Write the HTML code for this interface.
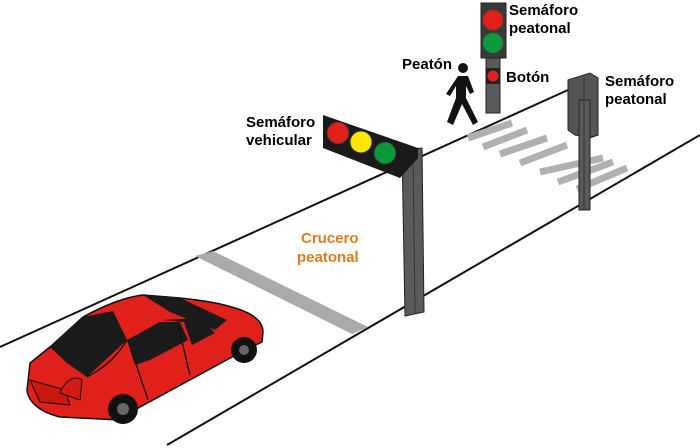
<!DOCTYPE html>
<html><head><meta charset="utf-8"><style>
html,body{margin:0;padding:0;background:#fff;}
svg{display:block;}
text{font-family:"Liberation Sans",Arial,sans-serif;font-weight:bold;font-size:15px;}
</style></head><body>
<svg width="700" height="448" viewBox="0 0 700 448" xmlns="http://www.w3.org/2000/svg">
<line x1="0" y1="347" x2="568" y2="90" stroke="#111" stroke-width="2"/>
<line x1="167" y1="445" x2="700" y2="135" stroke="#111" stroke-width="2"/>
<polygon points="195,256 213,251 368,327 352,334" fill="#aaa"/>
<g stroke="#b0b0b0" stroke-width="7">
<line x1="468" y1="138" x2="512" y2="123"/>
<line x1="483" y1="147" x2="527" y2="130"/>
<line x1="500" y1="154" x2="547" y2="138"/>
<line x1="520" y1="163" x2="567" y2="145"/>
<line x1="540" y1="172" x2="603" y2="158"/>
<line x1="558" y1="182" x2="613" y2="162"/>
<line x1="577" y1="189" x2="627" y2="168"/>
</g>
<polygon points="402,150 422,148 424,312 405,316" fill="#5a5a5a" stroke="#222" stroke-width="1"/>
<line x1="413" y1="150" x2="415" y2="314" stroke="#333"/>
<polygon points="323,115 418,148 418,158 400,178 323,148" fill="#1a1a1a"/>
<circle cx="338" cy="133" r="11" fill="#e0201a" stroke="#333"/>
<circle cx="361" cy="142" r="11" fill="#ffe600" stroke="#333"/>
<circle cx="385" cy="153" r="11" fill="#0a9a3c" stroke="#333"/>
<rect x="486" y="55" width="14" height="58" fill="#5a5a5a" stroke="#222"/>
<rect x="481" y="3" width="25" height="55" fill="#3a3a3a" stroke="#222"/>
<circle cx="493" cy="20" r="10" fill="#e0201a"/>
<circle cx="493" cy="43" r="10" fill="#0a9a3c"/>
<rect x="486" y="68" width="14" height="16" fill="#222"/>
<circle cx="493" cy="76" r="5.5" fill="#e0201a"/>
<polygon points="568,80 590,73 598,78 598,135 590,138 575,135 568,130" fill="#555" stroke="#222"/>
<rect x="579" y="100" width="11" height="110" fill="#5a5a5a" stroke="#222"/>
<line x1="584" y1="78" x2="584" y2="210" stroke="#333"/>
<circle cx="463" cy="68" r="5" fill="#111"/>
<path d="M458,76 L468,76 L474,92 L470,94 L466,86 L466,98 L478,122 L473,125 L462,104 L453,125 L447,122 L456,98 L456,86 L450,96 L446,94 Z" fill="#111"/>
<path d="M27,390 L30,363 L50,347 L83,317 C105,305 125,297 143,295 L180,298 C200,300 220,303 235,308 C255,314 263,322 263,332 L262,342 L245,350 L140,407 L120,420 L60,417 C40,412 28,402 27,390 Z" fill="#e0201a" stroke="#111" stroke-width="1.5"/>
<polygon points="50,347 83,317 113,311 127,340 87,377 67,363" fill="#1a1a1a"/>
<polygon points="143,295 180,298 227,320 215,330 170,312" fill="#1a1a1a"/>
<polygon points="127,340 160,322 180,322 188,340 150,360 135,365" fill="#1a1a1a"/>
<polygon points="162,320 200,318 215,333 192,345 184,322" fill="#1a1a1a"/>
<path d="M128,340 L148,400 M178,325 L190,375 M87,377 C100,370 115,360 127,340" stroke="#111" fill="none" stroke-width="1.3"/>
<path d="M30,380 L65,390 L70,405 L40,402 Z" fill="#c81810" stroke="#111"/>
<path d="M60,393 C65,380 75,375 82,380 L80,400 Z" fill="#d01c14" stroke="#111"/>
<circle cx="123" cy="409" r="15" fill="#111"/><circle cx="123" cy="409" r="6" fill="#666"/>
<circle cx="244" cy="350" r="13" fill="#111"/><circle cx="244" cy="350" r="5" fill="#666"/>
<text x="509" y="15">Semáforo</text>
<text x="509" y="33">peatonal</text>
<text x="402" y="69">Peatón</text>
<text x="506" y="82">Botón</text>
<text x="605" y="86">Semáforo</text>
<text x="605" y="104">peatonal</text>
<text x="246" y="127">Semáforo</text>
<text x="246" y="145">vehicular</text>
<text x="301" y="243" fill="#e07b1e">Crucero</text>
<text x="297" y="262" fill="#e07b1e">peatonal</text>
</svg>
</body></html>
